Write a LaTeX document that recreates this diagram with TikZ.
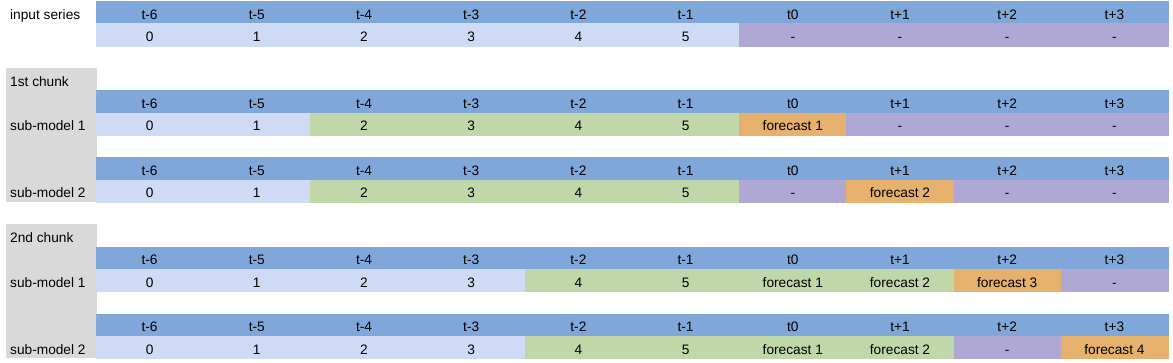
\documentclass[tikz,border=0pt]{standalone}
\usepackage{fontspec}
\setmainfont{Liberation Sans}
\definecolor{hdr}{HTML}{80A7DA}
\definecolor{lt}{HTML}{CFDBF5}
\definecolor{pu}{HTML}{AFA7D4}
\definecolor{gr}{HTML}{BFD7A9}
\definecolor{or}{HTML}{E6B06D}
\definecolor{gy}{HTML}{D9D9D9}
\tikzset{
  cell/.style={anchor=north west, minimum width=107.2pt, minimum height=22.33pt,
    inner sep=0pt, outer sep=0pt, text height=14.3pt, text depth=0pt, draw=#1, fill=#1, line width=0.2pt},
  lbl/.style={anchor=base west, inner sep=0pt},
  graybox/.style={anchor=north west, fill=gy, inner sep=0pt, minimum width=90.7pt}
}
\newcommand\hdrrow[1]{%
  \foreach \t [count=\i from 0] in {t-6,t-5,t-4,t-3,t-2,t-1,t0,t+1,t+2,t+3} {
    \node[cell=hdr] (h#1-\i) at ({96pt+\i*107.2pt},{-1pt-#1*22.33pt}) {\t};
  }}
\newcommand\valrow[2]{%
  \foreach \c/\t [count=\i from 0] in {#2} {
    \node[cell=\c] (v#1-\i) at ({96pt+\i*107.2pt},{-1pt-#1*22.33pt}) {\t};
  }}
\begin{document}
\begin{tikzpicture}[font=\fontsize{13.7}{16}\selectfont]
\useasboundingbox (0,0) rectangle (1173pt,-363pt);
% gray label panels
\node[graybox, minimum height=134pt] (g1) at (6pt,-68pt) {};
\node[graybox, minimum height=134pt] (g2) at (6pt,-224.3pt) {};
% rows
\hdrrow{0}
\valrow{1}{lt/0,lt/1,lt/2,lt/3,lt/4,lt/5,pu/-,pu/-,pu/-,pu/-}
\hdrrow{4}
\valrow{5}{lt/0,lt/1,gr/2,gr/3,gr/4,gr/5,or/forecast 1,pu/-,pu/-,pu/-}
\hdrrow{7}
\valrow{8}{lt/0,lt/1,gr/2,gr/3,gr/4,gr/5,pu/-,or/forecast 2,pu/-,pu/-}
\hdrrow{11}
\valrow{12}{lt/0,lt/1,lt/2,lt/3,gr/4,gr/5,gr/forecast 1,gr/forecast 2,or/forecast 3,pu/-}
\hdrrow{14}
\valrow{15}{lt/0,lt/1,lt/2,lt/3,gr/4,gr/5,gr/forecast 1,gr/forecast 2,pu/-,or/forecast 4}
% labels
\node[lbl] (l0) at (10pt,{-1pt-1*22.33pt+4pt}) {input series};
\node[lbl] (l1) at (10pt,{-1pt-4*22.33pt+4pt}) {1st chunk};
\node[lbl] (l2) at (10pt,{-1pt-6*22.33pt+4pt}) {sub-model 1};
\node[lbl] (l3) at (10pt,{-1pt-9*22.33pt+4pt}) {sub-model 2};
\node[lbl] (l4) at (10pt,{-1pt-11*22.33pt+4pt}) {2nd chunk};
\node[lbl] (l5) at (10pt,{-1pt-13*22.33pt+4pt}) {sub-model 1};
\node[lbl] (l6) at (10pt,{-1pt-16*22.33pt+4pt}) {sub-model 2};
\end{tikzpicture}
\end{document}
